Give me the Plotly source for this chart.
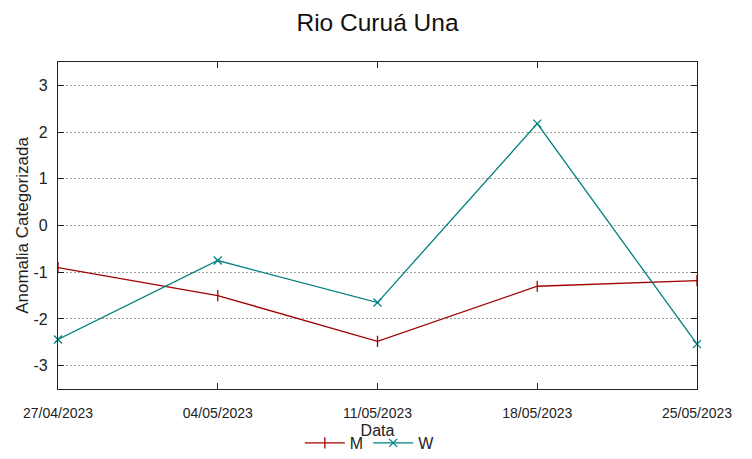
import plotly.graph_objects as go

dates = ["2023-04-27", "2023-05-04", "2023-05-11", "2023-05-18", "2023-05-25"]
tick_labels = ["27/04/2023", "04/05/2023", "11/05/2023", "18/05/2023", "25/05/2023"]
y_ticks = [-3, -2, -1, 0, 1, 2, 3]
y_tick_labels = ["-3", "-2", "-1", "0", "1", "2", "3"]
m_values = [-0.9, -1.5, -2.48, -1.3, -1.18]
w_values = [-2.44, -0.75, -1.65, 2.18, -2.54]

fig = go.Figure()
fig.add_trace(go.Scatter(x=dates, y=m_values, name="M", mode="lines+markers",
                         line=dict(color="#a00000", width=1.3),
                         marker=dict(symbol="line-ns-open", size=8, color="#a00000",
                                     line=dict(width=1.3, color="#a00000")),
                         cliponaxis=False))
fig.add_trace(go.Scatter(x=dates, y=w_values, name="W", mode="lines+markers",
                         line=dict(color="#008080", width=1.3),
                         marker=dict(symbol="x-thin-open", size=8, color="#008080",
                                     line=dict(width=1.3, color="#008080")),
                         cliponaxis=False))

fig.update_layout(
    width=752, height=459,
    margin=dict(l=50, r=63, t=54, b=78, autoexpand=False),
    paper_bgcolor="white", plot_bgcolor="white",
    font=dict(family="Liberation Sans, Arial, sans-serif", color="#222"),
    title=dict(text="Rio Curuá Una", x=0.5, xanchor="center", xref="paper",
               y=1 - 14 / 459, yanchor="middle", yref="container", automargin=False,
               font=dict(size=24.5, color="#111")),
    showlegend=True,
    legend=dict(orientation="h", x=0.488, xanchor="center", y=-0.165, yanchor="middle",
                font=dict(size=16), itemwidth=40, bgcolor="rgba(0,0,0,0)"),
    xaxis=dict(
        type="date", range=["2023-04-27", "2023-05-25"],
        tickvals=dates, ticktext=tick_labels, automargin=False,
        ticks="inside", ticklen=6, tickcolor="#222",
        showline=True, linecolor="#222", linewidth=1.2, mirror="ticks",
        showgrid=False, zeroline=False,
        tickfont=dict(size=14),
        ticklabelstandoff=11,
        title=dict(text="Data", font=dict(size=16), standoff=4),
    ),
    yaxis=dict(
        range=[-3.5, 3.5], tickvals=y_ticks, ticktext=y_tick_labels, automargin=False,
        ticks="inside", ticklen=6, tickcolor="#222",
        showline=True, linecolor="#222", linewidth=1.2, mirror="ticks",
        showgrid=True, gridcolor="#a0a0a0", griddash="2px,2px", gridwidth=1,
        zeroline=False,
        tickfont=dict(size=16),
        ticklabelstandoff=6,
        title=dict(text="Anomalia Categorizada", font=dict(size=17), standoff=0),
    ),
)

fig.write_html("out.html")
